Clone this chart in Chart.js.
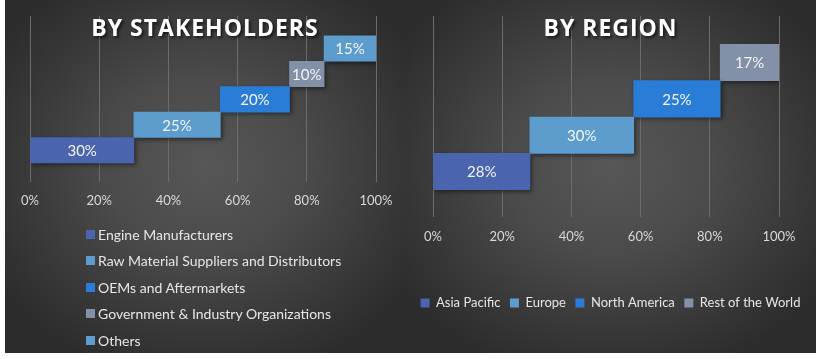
<!DOCTYPE html>
<html lang="en">
<head>
<title>Stakeholders and Region</title>
<meta charset="utf-8">
<script src="https://cdn.jsdelivr.net/npm/chart.js@4.4.1/dist/chart.umd.min.js"></script>
<style>
body { margin: 0; background: #fff; width: 816px; height: 359px; overflow: hidden; position: relative; }
.panel { position: absolute; top: 0; height: 353px;
  background: radial-gradient(ellipse 62% 62% at 50% 47%, #575757 0%, #4b4b4b 40%, #363636 80%, #2c2c2c 100%); }
#left { left: 5px; width: 400px; }
#right { left: 405px; width: 411px; }
.panel canvas { position: absolute; left: 0; top: 0; }
.title { position: absolute; left: 0; right: 0; top: 16px; text-align: center;
  font: 700 23px/22px "Open Sans", sans-serif; letter-spacing: 1px; color: #fff;
  text-shadow: 2px 2px 3px rgba(0,0,0,0.6); }
#stakeLegend { position: absolute; left: 81px; top: 221px; font: 14px Lato, sans-serif; color: #e6e6e6; }
#stakeLegend div { height: 26.5px; display: flex; align-items: center; white-space: nowrap; }
#stakeLegend span { display: inline-block; width: 9px; height: 9px; margin-right: 3px; }
</style>
</head>
<body>
<div class="panel" id="left">
  <canvas id="stake-chart" width="400" height="353"></canvas>
  <div class="title">BY STAKEHOLDERS</div>
  <div id="stakeLegend"></div>
</div>
<div class="panel" id="right">
  <canvas id="region-chart" width="411" height="353"></canvas>
  <div class="title">BY REGION</div>
</div>

<script>
var stakeholderNames = ['Engine Manufacturers', 'Raw Material Suppliers and Distributors', 'OEMs and Aftermarkets', 'Government & Industry Organizations', 'Others'];
var stakeholderShares = [30, 25, 20, 10, 15];
var stakeholderColors = ['#4a65ae', '#5d9dce', '#2a7dd6', '#8290a8', '#5d9dce'];

var regionNames = ['Asia Pacific', 'Europe', 'North America', 'Rest of the World'];
var regionShares = [28, 30, 25, 17];
var regionColors = ['#4a65ae', '#5d9dce', '#2a7dd6', '#8290a8'];

var axisTicks = [0, 20, 40, 60, 80, 100];

// each segment starts where the previous one ended
function buildDatasets(names, shares, colors) {
  var sets = [];
  var start = 0;
  for (var i = 0; i < names.length; i++) {
    sets.push({
      label: names[i],
      data: [{x: [start, start + shares[i]], y: i}],
      share: shares[i],
      backgroundColor: colors[i],
      borderWidth: 0,
      grouped: false,
      categoryPercentage: 1,
      barPercentage: 1
    });
    start += shares[i];
  }
  return sets;
}

var barLabels = {
  id: 'barLabels',
  beforeDatasetsDraw: function(chart) {
    var ctx = chart.ctx;
    ctx.save();
    ctx.shadowColor = 'rgba(0,0,0,0.45)';
    ctx.shadowBlur = 4;
    ctx.shadowOffsetX = 2;
    ctx.shadowOffsetY = 2;
  },
  afterDatasetsDraw: function(chart) {
    var ctx = chart.ctx;
    ctx.restore();
    ctx.save();
    ctx.font = '15px Lato, sans-serif';
    ctx.fillStyle = '#f4f4f4';
    ctx.textAlign = 'center';
    ctx.textBaseline = 'middle';
    chart.data.datasets.forEach(function(ds, i) {
      chart.getDatasetMeta(i).data.forEach(function(bar) {
        var p = bar.getCenterPoint();
        ctx.fillText(ds.share + '%', p.x, p.y + 1);
      });
    });
    ctx.restore();
  }
};

function makeChart(id, names, shares, colors, opt) {
  var n = names.length;
  return new Chart(document.getElementById(id), {
    type: 'bar',
    data: {datasets: buildDatasets(names, shares, colors)},
    plugins: [barLabels],
    options: {
      indexAxis: 'y',
      responsive: false,
      animation: false,
      layout: {padding: {top: 16, bottom: opt.padBottom}},
      plugins: {
        tooltip: {enabled: false},
        legend: {
          display: opt.legend,
          position: 'bottom',
          labels: {
            color: '#e6e6e6',
            font: {family: 'Lato', size: 13},
            boxWidth: 9,
            boxHeight: 9,
            padding: 9.5
          }
        }
      },
      scales: {
        x: {
          type: 'linear',
          min: 0,
          max: 100,
          afterBuildTicks: function(s) { s.ticks = axisTicks.map(function(v) { return {value: v}; }); },
          afterFit: function(s) { s.height = opt.xHeight; },
          grid: {color: '#6c6c6c', lineWidth: 1, drawTicks: false},
          border: {display: false},
          ticks: {
            color: '#d9d9d9',
            font: {family: 'Lato', size: 13},
            padding: opt.tickPad,
            maxRotation: 0,
            callback: function(v) { return v + '%'; }
          }
        },
        y: {
          type: 'linear',
          offset: false,
          bounds: 'data',
          min: -1.25,
          max: n - 1 + 1.28,
          afterBuildTicks: function(s) { s.ticks = names.map(function(_, i) { return {value: i}; }); },
          afterFit: function(s) { s.width = opt.leftW; },
          grid: {display: false},
          border: {display: false},
          ticks: {display: false}
        },
        y2: {
          type: 'linear',
          position: 'right',
          afterFit: function(s) { s.width = opt.rightW; },
          grid: {display: false},
          border: {display: false},
          ticks: {display: false}
        }
      }
    }
  });
}

var stakeChart = makeChart('stake-chart', stakeholderNames, stakeholderShares, stakeholderColors,
  {legend: false, padBottom: 0, xHeight: 171, tickPad: 11, leftW: 25, rightW: 29});
makeChart('region-chart', regionNames, regionShares, regionColors,
  {legend: true, padBottom: 33.5, xHeight: 70, tickPad: 12, leftW: 28, rightW: 37});

// vertical legend for the stakeholder chart
var items = stakeChart.options.plugins.legend.labels.generateLabels(stakeChart);
var box = document.getElementById('stakeLegend');
items.forEach(function(it) {
  var row = document.createElement('div');
  var sw = document.createElement('span');
  sw.style.background = it.fillStyle;
  row.appendChild(sw);
  row.appendChild(document.createTextNode(it.text));
  box.appendChild(row);
});
</script>
</body>
</html>
